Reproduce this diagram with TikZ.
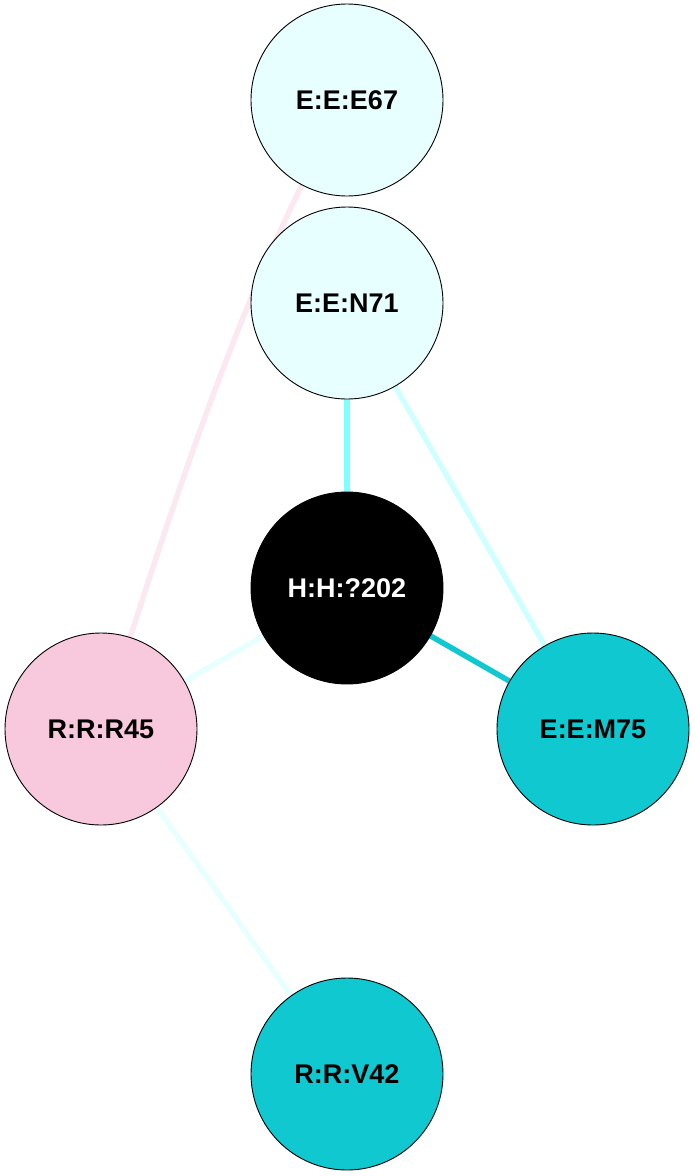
\documentclass[tikz,border=0pt]{standalone}
\usepackage{fontspec}
\setmainfont{Liberation Sans}
\usetikzlibrary{backgrounds}
\definecolor{paleCyan}{HTML}{E8FFFF}
\definecolor{midCyan}{HTML}{10C8D0}
\definecolor{pinkFill}{HTML}{F8C8DC}
\definecolor{edgeA}{HTML}{80FFFF}
\definecolor{edgeB}{HTML}{D0FFFF}
\definecolor{edgeC}{HTML}{E8FFFF}
\definecolor{edgePink}{HTML}{FCE8F0}
\tikzset{
  res/.style={circle, draw=black, line width=0.9pt, minimum size=192pt, inner sep=0pt,
    font=\fontsize{27}{31}\selectfont\bfseries},
  link/.style={line width=5.5pt}
}
\begin{document}
\begin{tikzpicture}[x=1pt,y=-1pt]
\useasboundingbox (0,0) rectangle (694,1176);
\node[res, fill=paleCyan] (E67) at (347,100) {E:E:E67};
\node[res, fill=paleCyan] (N71) at (347,303) {E:E:N71};
\node[res, fill=black, text=white] (H202) at (347,588) {H:H:?202};
\node[res, fill=pinkFill] (R45) at (101,729) {R:R:R45};
\node[res, fill=midCyan] (M75) at (593,729) {E:E:M75};
\node[res, fill=midCyan] (V42) at (347,1074) {R:R:V42};
\begin{scope}[on background layer]
\draw[link, edgePink] (E67.center) .. controls (248,271) and (175,495) .. (R45.center);
\draw[link, edgeA] (N71) -- (H202);
\draw[link, edgeB] (N71) -- (M75);
\draw[link, midCyan] (H202) -- (M75);
\draw[link, edgeC] (H202) -- (R45);
\draw[link, edgeC] (R45) -- (V42);
\end{scope}
\end{tikzpicture}
\end{document}
